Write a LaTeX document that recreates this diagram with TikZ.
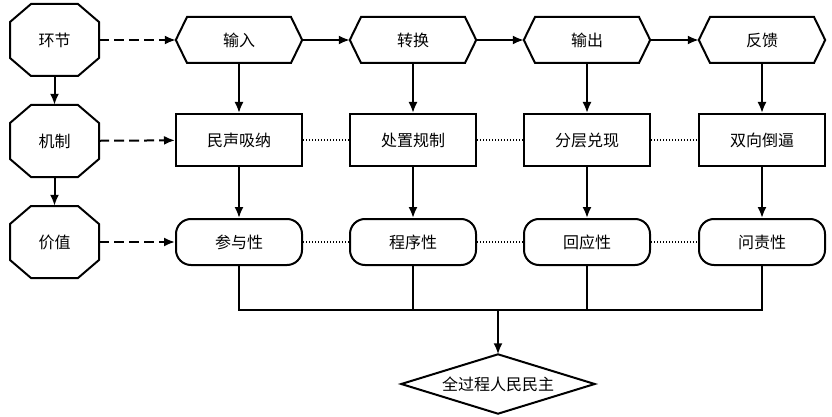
\documentclass[tikz,border=0pt]{standalone}
\usepackage{fontspec}
\setmainfont{Noto Sans CJK SC}
\usetikzlibrary{arrows.meta}
\tikzset{
  lw/.style={line width=2pt},
  base/.style={minimum width=126pt, minimum height=46pt, inner sep=0pt, font=\fontsize{16pt}{18pt}\selectfont},
  rectbox/.style={base, draw, lw, minimum height=52pt},
  roundbox/.style={base, draw, lw, rounded corners=15pt},
  octbase/.style={base, minimum width=89pt, minimum height=72pt},
  diabase/.style={base, minimum width=193pt, minimum height=59pt},
  arr/.style={lw, -{Latex[length=11pt,width=9pt]}},
  dasharr/.style={arr, dash pattern=on 10pt off 5pt},
  dotline/.style={line width=1.4pt, dash pattern=on 1.4pt off 1.6pt},
}
\newcommand{\myocta}[4]{%
  \node[octbase] (#1) at (#2,#3) {#4};
  \draw[lw] ([shift={(-23.5pt,36pt)}]#1.center) -- ([shift={(23.5pt,36pt)}]#1.center)
    -- ([shift={(44.5pt,18pt)}]#1.center) -- ([shift={(44.5pt,-18pt)}]#1.center)
    -- ([shift={(23.5pt,-36pt)}]#1.center) -- ([shift={(-23.5pt,-36pt)}]#1.center)
    -- ([shift={(-44.5pt,-18pt)}]#1.center) -- ([shift={(-44.5pt,18pt)}]#1.center) -- cycle;}
\newcommand{\myhex}[4]{%
  \node[base] (#1) at (#2,#3) {#4};
  \draw[lw] (#1.west) -- ([shift={(-52pt,23pt)}]#1.center) -- ([shift={(52pt,23pt)}]#1.center)
    -- (#1.east) -- ([shift={(52pt,-23pt)}]#1.center) -- ([shift={(-52pt,-23pt)}]#1.center) -- cycle;}
\begin{document}
\begin{tikzpicture}[x=1pt,y=-1pt]
\useasboundingbox[fill=white] (0,0) rectangle (832,417);
% left column
\myocta{o1}{54.5}{40}{环节}
\myocta{o2}{54.5}{141}{机制}
\myocta{o3}{54.5}{242}{价值}
% top row
\myhex{h1}{239}{40}{输入}
\myhex{h2}{413}{40}{转换}
\myhex{h3}{587}{40}{输出}
\myhex{h4}{762}{40}{反馈}
% middle row
\node[rectbox] (m1) at (239,140) {民声吸纳};
\node[rectbox] (m2) at (413,140) {处置规制};
\node[rectbox] (m3) at (587,140) {分层兑现};
\node[rectbox] (m4) at (762,140) {双向倒逼};
% bottom row
\node[roundbox] (v1) at (239,242) {参与性};
\node[roundbox] (v2) at (413,242) {程序性};
\node[roundbox] (v3) at (587,242) {回应性};
\node[roundbox] (v4) at (762,242) {问责性};
% diamond
\node[diabase] (d) at (498,384) {全过程人民民主};
\draw[lw] (d.west) -- (d.north) -- (d.east) -- (d.south) -- cycle;
% connectors
\draw[arr] (o1) -- (o2);
\draw[arr] (o2) -- (o3);
\draw[dasharr] (o1) -- (h1);
\draw[dasharr] (o2) -- (m1);
\draw[dasharr] (o3) -- (v1);
\draw[arr] (h1) -- (h2);
\draw[arr] (h2) -- (h3);
\draw[arr] (h3) -- (h4);
\foreach \i in {1,2,3,4}{
  \draw[arr] (h\i) -- (m\i);
  \draw[arr] (m\i) -- (v\i);
}
\draw[dotline] (m1) -- (m2);
\draw[dotline] (m2) -- (m3);
\draw[dotline] (m3) -- (m4);
\draw[dotline] (v1) -- (v2);
\draw[dotline] (v2) -- (v3);
\draw[dotline] (v3) -- (v4);
\coordinate (j) at (498,310);
\draw[lw] (v1.south) -- (v1.south |- j) -- (v4.south |- j) -- (v4.south);
\draw[lw] (v2.south) -- (v2.south |- j);
\draw[lw] (v3.south) -- (v3.south |- j);
\draw[arr] (j) -- (d.north);
\end{tikzpicture}
\end{document}
